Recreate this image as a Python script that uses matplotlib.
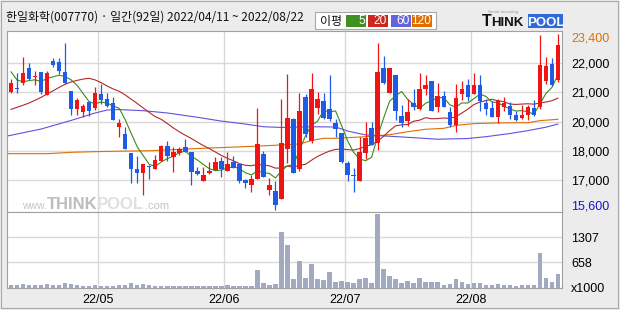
import numpy as np
import pandas as pd
import matplotlib
matplotlib.use("Agg")
import matplotlib.pyplot as plt
from matplotlib.patches import Rectangle

title_text = "한일화학(007770) · 일간(92일) 2022/04/11 ~ 2022/08/22"

opens = [20840, 21010, 21250, 21900, 21520, 21720, 20720, 22190, 22160, 21720,
         20870, 20100, 19950, 20390, 20130, 20750, 20510, 20360, 19300, 18970,
         18130, 17420, 17270, 17550, 17450, 17800, 18450, 17980, 18150, 18420,
         18180, 17360, 16920, 17270, 17390, 17800, 17360, 17740, 17650, 16950,
         16740, 17000, 18100, 16500, 16450, 16090, 18300, 19630, 17450, 20600,
         18660, 20130, 20430, 20070, 19480, 19010, 17680, 17150, 16920, 18150,
         19250, 18600, 21900, 20810, 21570, 19780, 19540, 20360, 20100, 20980,
         21310, 20190, 20660, 19950, 19390, 20750, 21130, 20750, 21130, 20340,
         20130, 19740, 20190, 20220, 19810, 19690, 19830, 20130, 20190, 21340,
         22070, 21370]
highs = [21410, 21680, 22400, 22130, 21760, 21720, 21780, 22340, 22340, 23020,
         20890, 20560, 20310, 20450, 21040, 21190, 20810, 20630, 19640, 19300,
         18130, 18010, 17650, 17610, 18040, 18480, 18680, 18420, 18420, 18750,
         18180, 17530, 17530, 17740, 17980, 17980, 18180, 18010, 17650, 17000,
         17150, 20130, 18220, 17040, 16920, 20510, 21630, 19690, 20780, 20750,
         21690, 20840, 20810, 21600, 19630, 19010, 17800, 17480, 18830, 19510,
         19510, 22990, 22430, 21900, 21570, 20250, 20540, 20960, 21690, 21600,
         21310, 21220, 20890, 20190, 21190, 21340, 21400, 21690, 21600, 20510,
         20430, 20510, 20600, 20390, 19980, 20250, 20280, 20480, 23370, 22370,
         22340, 23400]
lows = [20790, 20790, 21150, 21370, 21150, 20750, 20720, 21930, 21630, 21190,
        19830, 19820, 19720, 19780, 20040, 20310, 20190, 19600, 18860, 18300,
        16830, 16830, 16270, 17000, 17450, 17800, 17800, 17300, 18040, 18180,
        16740, 17150, 16920, 17210, 17390, 17090, 17360, 17480, 16830, 16590,
        16420, 17000, 17070, 16300, 15600, 16090, 17710, 17240, 17330, 18830,
        18570, 19860, 19630, 19570, 18830, 17710, 16920, 16420, 16920, 17860,
        18480, 18270, 21190, 20810, 19600, 19280, 19330, 20040, 20040, 20690,
        19980, 19950, 20160, 19280, 19070, 20480, 20430, 20750, 20010, 19830,
        19740, 19450, 19980, 19660, 19570, 19630, 19600, 19780, 20070, 21190,
        21100, 21280]
closes = [21230, 20990, 21690, 21420, 21550, 20840, 21690, 22040, 21780, 21250,
          20100, 20480, 20220, 19980, 20810, 20480, 20220, 19600, 19450, 18300,
          17450, 17270, 17650, 17520, 17830, 18450, 18010, 18180, 18300, 18180,
          17300, 17210, 17180, 17360, 17740, 17450, 17650, 17480, 16920, 16830,
          17000, 18540, 17070, 16740, 15830, 18570, 19690, 17270, 19980, 18980,
          20960, 20510, 19690, 19630, 19210, 17740, 17150, 17120, 18180, 18800,
          18510, 21720, 21220, 21900, 19980, 19480, 19950, 20190, 20960, 21130,
          20010, 20660, 20190, 19390, 20570, 20960, 20630, 21130, 20430, 20070,
          19740, 20450, 20360, 19830, 19600, 19830, 20190, 19830, 22020, 21990,
          21160, 22930]
volumes = [70, 70, 96, 70, 70, 70, 96, 70, 70, 122,
           96, 70, 44, 44, 70, 44, 44, 44, 70, 70,
           122, 70, 96, 70, 44, 44, 44, 44, 44, 44,
           44, 44, 44, 44, 44, 44, 70, 44, 44, 44,
           44, 458, 130, 70, 96, 1443, 1106, 225, 692, 259,
           614, 216, 199, 406, 147, 173, 147, 122, 225, 251,
           122, 1909, 484, 303, 225, 122, 173, 122, 251, 147,
           147, 147, 70, 96, 225, 147, 96, 122, 122, 70,
           70, 96, 70, 70, 44, 70, 70, 70, 899, 251,
           147, 355]

ma5_head = [21730, 21370, 21290, 21340]
ma20_head = [20070, 20160, 20250, 20350, 20470, 20600, 20750, 20890, 21040, 21180,
             21280, 21350, 21410, 21440, 21370, 21250, 21100, 20970, 20870]
ma60_idx = [-1, 5, 10, 14, 16, 18, 22, 26, 31, 35, 39, 42, 45, 50, 54, 56, 59, 65,
            71, 76, 79, 83, 86, 89, 91]
ma60_val = [18870, 19200, 19580, 19910, 20040, 20060, 20010, 19910, 19720, 19550,
            19420, 19300, 19270, 19300, 19290, 19110, 18940, 18850, 18750, 18780,
            18860, 19000, 19130, 19280, 19420]
ma120_idx = [-1, 6, 10, 14, 18, 23, 28, 33, 38, 43, 48, 50, 52, 54, 59, 63, 66, 69,
             72, 74, 77, 81, 86, 88, 91]
ma120_val = [18110, 18110, 18170, 18200, 18220, 18240, 18300, 18360, 18410, 18470,
             18540, 18690, 18790, 18790, 18860, 18950, 19080, 19190, 19230, 19360,
             19440, 19470, 19480, 19570, 19630]

month_labels = ["22/05", "22/06", "22/07", "22/08"]
month_first_idx = [15, 36, 56, 77]
price_tick_pos = [22120, 20840, 19510, 18230, 16950]
price_tick_labels = ["22,000", "21,000", "20,000", "18,000", "17,000"]
vol_tick_pos = [0, 658, 1307]
vol_tick_labels = ["x1000", "658", "1307"]
legend_labels = ["5", "20", "60", "120"]

# ---------------------------------------------------------------
C_UP, C_DN = "#f01414", "#1e5be6"
C_MA = ["#3c8c1c", "#b42828", "#6450dc", "#e06e00"]
C_LEG = ["#3f8f22", "#c8281e", "#6464dc", "#e06e00"]
GRID = "#d9d9d9"
FRAME = "#a0a0a0"
NUMFONT = "Liberation Sans"
CJK = ["Noto Sans CJK KR", "DejaVu Sans"]

W, H = 620, 310
def fx(px): return px / W
def fy(py): return 1 - py / H

fig = plt.figure(figsize=(6.2, 3.1), dpi=100, facecolor="#ececec")
renderer = fig.canvas.get_renderer()
ax = fig.add_axes([fx(7), fy(212), 555 / W, 181 / H])
axv = fig.add_axes([fx(7), fy(288), 555 / W, 76 / H], sharex=ax)

o = np.array(opens, float); h = np.array(highs, float)
l = np.array(lows, float); c = np.array(closes, float)
v = np.array(volumes, float)
x = np.arange(len(c))
up = c >= o
cols = np.where(up, C_UP, C_DN)

ma5 = pd.Series(c).rolling(5).mean().to_numpy()
ma5[:len(ma5_head)] = ma5_head
ma20 = pd.Series(c).rolling(20).mean().to_numpy()
ma20[:len(ma20_head)] = ma20_head

grid_x = np.array(month_first_idx) - 0.5
for a in (ax, axv):
    a.set_facecolor("white")
    a.set_axisbelow(True)
    for s in a.spines.values():
        s.set_color(FRAME)
        s.set_linewidth(0.8)
    a.tick_params(length=0)
    a.yaxis.tick_right()

# price panel
LW = 0.8
ax.plot(ma120_idx, ma120_val, color=C_MA[3], lw=LW, zorder=2)
ax.plot(ma60_idx, ma60_val, color=C_MA[2], lw=LW, zorder=2)
ax.plot(x, ma20, color=C_MA[1], lw=LW, zorder=2)
ax.plot(x, ma5, color=C_MA[0], lw=LW, zorder=2)
ax.vlines(x, l, h, colors=cols, lw=0.9, zorder=3)
body_lo = np.minimum(o, c)
body_h = np.maximum(np.abs(c - o), 45)
ax.bar(x, body_h, bottom=body_lo, width=0.74, color=cols, lw=0, zorder=4)

ax.set_xlim(-0.67, 91.68)
ax.set_ylim(15532, 23533)
ax.set_xticks(grid_x)
ax.tick_params(axis="x", labelbottom=False)
ax.set_yticks(price_tick_pos)
ax.set_yticklabels(price_tick_labels, fontsize=9, family=NUMFONT)
ax.tick_params(axis="y", pad=6.5)
ax.grid(True, color=GRID, lw=1.0)

ytr = ax.get_yaxis_transform()
ax.annotate("23,400", xy=(1.0, h.max()), xycoords=ytr, xytext=(6.5, -3.5),
            textcoords="offset points", va="center", ha="left", fontsize=9,
            family=NUMFONT, color="#e07000", annotation_clip=False)
ax.annotate("15,600", xy=(1.0, l.min()), xycoords=ytr, xytext=(6.5, 2.5),
            textcoords="offset points", va="center", ha="left", fontsize=9,
            family=NUMFONT, color="#1414d2", annotation_clip=False)

# text pieces placed one after another
def seq_text(target, x0, ybase, pieces, zorder=1):
    cur = x0
    for txt, size, weight, col in pieces:
        t = target.text(fx(cur), fy(ybase), txt, transform=fig.transFigure, fontsize=size,
                        family="Liberation Sans", weight=weight, color=col,
                        va="baseline", ha="left", zorder=zorder)
        bb = t.get_window_extent(renderer=renderer)
        cur = bb.x1
    return cur

seq_text(ax, 22, 209, [("www.", 7.5, "normal", "#c4c4c4"),
                       ("THINK", 12, "bold", "#bdbdbd"),
                       ("POOL", 12, "bold", "#e0e0e0"),
                       (".com", 8, "normal", "#c4c4c4")])

# volume panel
axv.bar(x, v, width=0.74, color="#a2aac2", lw=0, zorder=3)
axv.set_ylim(-8, 1961)
axv.set_yticks(vol_tick_pos)
axv.set_yticklabels(vol_tick_labels, fontsize=9, family=NUMFONT)
axv.tick_params(axis="y", pad=6.5)
axv.set_xticks(grid_x)
axv.set_xticklabels(month_labels, fontsize=9, family=NUMFONT)
axv.tick_params(axis="x", pad=4.5)
axv.grid(True, color=GRID, lw=1.0)

# title
fig.text(fx(6), fy(17), title_text, fontsize=8.6, va="center", ha="left",
         family=CJK, color="#111111")

# legend box
fig.patches.append(Rectangle((fx(315), fy(29)), 121 / W, 17 / H, transform=fig.transFigure,
                             facecolor="white", edgecolor="#a8a8a8", lw=0.8))
fig.text(fx(320), fy(21), "이평", fontsize=8.6, va="center", ha="left",
         family=CJK, color="#111111")
leg_x = [346, 368, 391, 412]
for lx, lab, col in zip(leg_x, legend_labels, C_LEG):
    fig.patches.append(Rectangle((fx(lx), fy(27)), 20 / W, 12 / H, transform=fig.transFigure,
                                 facecolor=col, edgecolor="none"))
    fig.text(fx(lx + 19), fy(21), lab, fontsize=8.6, va="center", ha="right",
             family=NUMFONT, color="white")

# logo
fig.text(fx(503), fy(12.5), "Smart Investing", fontsize=3.2, va="center", ha="center",
         family="Liberation Sans", color="#9a9a9a")
seq_text(fig, 482, 26.5, [("T", 11.5, "bold", "#111111"),
                          ("HINK", 9.5, "bold", "#111111")], zorder=3)
fig.patches.append(Rectangle((fx(528), fy(27.5)), 35 / W, 13.5 / H, transform=fig.transFigure,
                             facecolor="#2f6ad6", edgecolor="none"))
fig.text(fx(545.5), fy(26.5), "POOL", fontsize=9.5, weight="bold", va="baseline", ha="center",
         family="Liberation Sans", color="white")

# outer border
fig.patches.append(Rectangle((fx(1), fy(308)), 617 / W, 307 / H, transform=fig.transFigure,
                             facecolor="none", edgecolor="#a8a8a8", lw=0.8))

fig.savefig("out.png", dpi=100, facecolor=fig.get_facecolor())
